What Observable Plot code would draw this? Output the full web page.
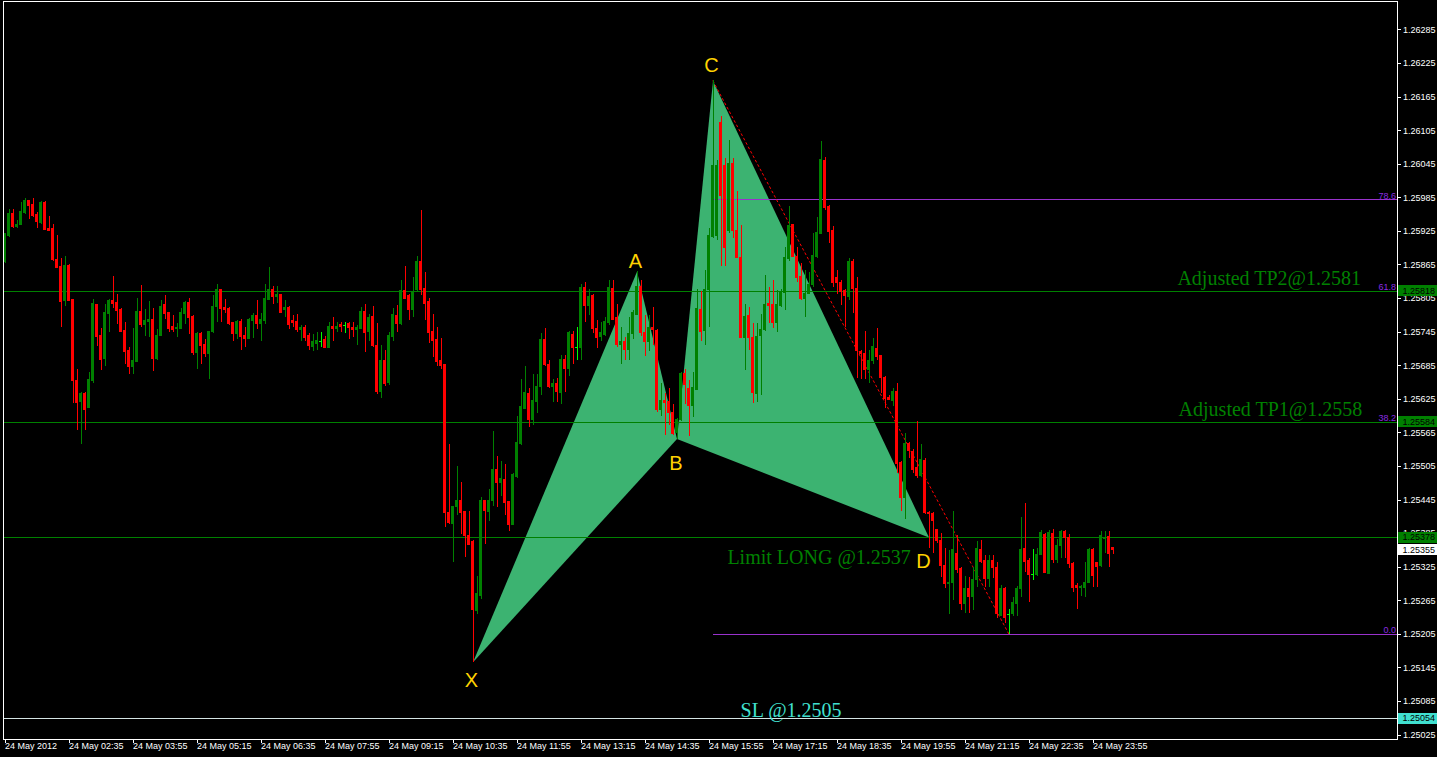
<!DOCTYPE html>
<html><head><meta charset="utf-8">
<script src="https://cdn.jsdelivr.net/npm/d3@7"></script>
<script src="https://cdn.jsdelivr.net/npm/@observablehq/plot@0.6"></script>
<style>
html,body{margin:0;padding:0;background:#000;overflow:hidden;}
#chart svg{display:block;}
</style></head><body><div id="chart"></div>
<script>
// EURUSD M5, 24 May 2012 — candle index 0 = first bar on screen
const open = [1.25871,1.25917,1.25956,1.25933,1.25937,1.25958,1.25980,1.25973,1.25955,1.25940,
1.25976,1.25930,1.25930,1.25874,1.25862,1.25801,1.25863,1.25803,1.25658,1.25620,
1.25635,1.25610,1.25658,1.25794,1.25738,1.25697,1.25778,1.25801,1.25797,1.25785,
1.25747,1.25712,1.25683,1.25692,1.25781,1.25758,1.25763,1.25767,1.25697,1.25738,
1.25794,1.25779,1.25754,1.25751,1.25751,1.25778,1.25797,1.25772,1.25708,1.25742,
1.25722,1.25706,1.25745,1.25790,1.25821,1.25789,1.25787,1.25762,1.25742,1.25763,
1.25738,1.25733,1.25765,1.25774,1.25760,1.25765,1.25803,1.25821,1.25808,1.25812,
1.25785,1.25789,1.25765,1.25763,1.25749,1.25753,1.25738,1.25719,1.25724,1.25729,
1.25731,1.25717,1.25754,1.25751,1.25758,1.25756,1.25760,1.25753,1.25749,1.25751,
1.25781,1.25745,1.25772,1.25721,1.25638,1.25694,1.25654,1.25737,1.25774,1.25760,
1.25819,1.25810,1.25785,1.25821,1.25871,1.25822,1.25799,1.25745,1.25731,1.25694,
1.25687,1.25422,1.25402,1.25433,1.25443,1.25424,1.25381,1.25370,1.25247,1.25274,
1.25443,1.25424,1.25443,1.25499,1.25476,1.25481,1.25442,1.25401,1.25486,1.25545,
1.25608,1.25635,1.25588,1.25620,1.25647,1.25731,1.25687,1.25647,1.25653,1.25636,
1.25695,1.25679,1.25740,1.25717,1.25717,1.25824,1.25792,1.25810,1.25751,1.25737,
1.25740,1.25762,1.25822,1.25771,1.25722,1.25728,1.25713,1.25742,1.25776,1.25826,
1.25744,1.25728,1.25753,1.25747,1.25606,1.25622,1.25620,1.25601,1.25565,1.25588,
1.25670,1.25644,1.25613,1.25642,1.25785,1.25747,1.25821,1.25915,1.25917,1.26119,
1.26042,1.25926,1.26046,1.25926,1.25878,1.25735,1.25774,1.25735,1.25635,1.25738,
1.25749,1.25795,1.25794,1.25762,1.25792,1.25815,1.25876,1.25937,1.25880,1.25844,
1.25804,1.25813,1.25829,1.25880,1.25921,1.26051,1.25969,1.25926,1.25842,1.25833,
1.25819,1.25808,1.25871,1.25822,1.25710,1.25706,1.25678,1.25694,1.25715,1.25703,
1.25663,1.25627,1.25622,1.25638,1.25511,1.25449,1.25545,1.25531,1.25502,1.25488,
1.25515,1.25422,1.25420,1.25392,1.25372,1.25327,1.25295,1.25297,1.25349,1.25322,
1.25259,1.25286,1.25272,1.25302,1.25356,1.25336,1.25304,1.25336,1.25324,1.25238,
1.25286,1.25241,1.25241,1.25259,1.25286,1.25358,1.25336,1.25311,1.25311,1.25347,
1.25383,1.25313,1.25384,1.25338,1.25363,1.25388,1.25377,1.25331,1.25291,1.25288,
1.25288,1.25297,1.25356,1.25333,1.25327,1.25376,1.25379,1.25359];
const high = [1.25922,1.25964,1.25965,1.25944,1.25976,1.25983,1.25981,1.25983,1.25958,1.25978,
1.25978,1.25951,1.25937,1.25917,1.25876,1.25881,1.25865,1.25804,1.25678,1.25638,
1.25638,1.25672,1.25804,1.25795,1.25751,1.25795,1.25803,1.25844,1.25812,1.25787,
1.25762,1.25717,1.25751,1.25806,1.25828,1.25785,1.25799,1.25787,1.25749,1.25801,
1.25810,1.25781,1.25774,1.25760,1.25787,1.25799,1.25806,1.25774,1.25744,1.25744,
1.25731,1.25747,1.25810,1.25831,1.25822,1.25804,1.25789,1.25763,1.25765,1.25767,
1.25753,1.25769,1.25778,1.25801,1.25778,1.25831,1.25860,1.25826,1.25826,1.25813,
1.25801,1.25790,1.25774,1.25776,1.25756,1.25756,1.25742,1.25740,1.25744,1.25744,
1.25737,1.25763,1.25772,1.25763,1.25762,1.25763,1.25763,1.25762,1.25756,1.25789,
1.25794,1.25776,1.25790,1.25760,1.25722,1.25712,1.25744,1.25787,1.25792,1.25837,
1.25863,1.25812,1.25842,1.25880,1.25962,1.25851,1.25806,1.25776,1.25754,1.25733,
1.25688,1.25545,1.25434,1.25504,1.25477,1.25425,1.25424,1.25372,1.25308,1.25449,
1.25445,1.25463,1.25567,1.25522,1.25513,1.25508,1.25443,1.25493,1.25595,1.25660,
1.25683,1.25644,1.25670,1.25670,1.25742,1.25751,1.25694,1.25661,1.25663,1.25703,
1.25703,1.25747,1.25747,1.25754,1.25831,1.25833,1.25822,1.25812,1.25765,1.25763,
1.25771,1.25837,1.25837,1.25794,1.25754,1.25735,1.25771,1.25783,1.25853,1.25837,
1.25774,1.25774,1.25789,1.25749,1.25654,1.25635,1.25644,1.25615,1.25590,1.25672,
1.25678,1.25658,1.25672,1.25822,1.25817,1.25856,1.25931,1.26194,1.26051,1.26130,
1.26055,1.26087,1.26055,1.25996,1.25935,1.25795,1.25789,1.25760,1.25760,1.25776,
1.25846,1.25824,1.25837,1.25819,1.25822,1.25896,1.25969,1.25938,1.25896,1.25867,
1.25855,1.25851,1.25921,1.25949,1.26085,1.26058,1.25971,1.25933,1.25855,1.25837,
1.25821,1.25876,1.25874,1.25842,1.25712,1.25747,1.25713,1.25733,1.25751,1.25704,
1.25665,1.25631,1.25644,1.25654,1.25513,1.25563,1.25547,1.25536,1.25586,1.25545,
1.25520,1.25425,1.25422,1.25393,1.25386,1.25359,1.25354,1.25425,1.25381,1.25324,
1.25309,1.25306,1.25325,1.25370,1.25372,1.25345,1.25345,1.25345,1.25333,1.25293,
1.25288,1.25250,1.25270,1.25290,1.25413,1.25438,1.25341,1.25356,1.25358,1.25390,
1.25386,1.25390,1.25393,1.25374,1.25390,1.25390,1.25384,1.25334,1.25295,1.25293,
1.25333,1.25359,1.25358,1.25334,1.25388,1.25388,1.25388,1.25361];
const low = [1.25867,1.25915,1.25931,1.25930,1.25935,1.25955,1.25947,1.25949,1.25930,1.25938,
1.25926,1.25924,1.25872,1.25858,1.25753,1.25790,1.25799,1.25617,1.25570,1.25545,
1.25569,1.25608,1.25654,1.25719,1.25676,1.25683,1.25745,1.25787,1.25758,1.25744,
1.25688,1.25670,1.25669,1.25690,1.25753,1.25737,1.25735,1.25674,1.25694,1.25737,
1.25767,1.25745,1.25745,1.25735,1.25749,1.25758,1.25740,1.25703,1.25679,1.25688,
1.25699,1.25660,1.25742,1.25762,1.25763,1.25779,1.25756,1.25729,1.25731,1.25712,
1.25717,1.25731,1.25733,1.25749,1.25729,1.25758,1.25801,1.25795,1.25797,1.25778,
1.25771,1.25749,1.25753,1.25745,1.25728,1.25729,1.25713,1.25710,1.25713,1.25717,
1.25715,1.25715,1.25728,1.25744,1.25745,1.25742,1.25731,1.25735,1.25721,1.25749,
1.25708,1.25728,1.25717,1.25633,1.25626,1.25647,1.25649,1.25729,1.25744,1.25756,
1.25803,1.25765,1.25771,1.25817,1.25810,1.25765,1.25724,1.25699,1.25683,1.25679,
1.25395,1.25402,1.25333,1.25418,1.25383,1.25343,1.25363,1.25155,1.25240,1.25268,
1.25365,1.25406,1.25434,1.25431,1.25452,1.25417,1.25388,1.25399,1.25484,1.25543,
1.25606,1.25574,1.25579,1.25599,1.25631,1.25683,1.25645,1.25620,1.25620,1.25615,
1.25638,1.25665,1.25688,1.25695,1.25695,1.25762,1.25774,1.25742,1.25715,1.25729,
1.25738,1.25756,1.25765,1.25717,1.25688,1.25695,1.25695,1.25731,1.25774,1.25737,
1.25701,1.25710,1.25722,1.25601,1.25595,1.25561,1.25579,1.25561,1.25554,1.25586,
1.25615,1.25558,1.25593,1.25640,1.25728,1.25722,1.25754,1.25912,1.25908,1.25863,
1.25863,1.25922,1.25912,1.25876,1.25733,1.25676,1.25713,1.25617,1.25619,1.25631,
1.25747,1.25760,1.25751,1.25744,1.25789,1.25783,1.25872,1.25878,1.25833,1.25801,
1.25771,1.25812,1.25824,1.25876,1.25919,1.25962,1.25903,1.25824,1.25813,1.25792,
1.25753,1.25801,1.25779,1.25663,1.25661,1.25661,1.25654,1.25688,1.25694,1.25635,
1.25608,1.25622,1.25613,1.25492,1.25425,1.25411,1.25520,1.25492,1.25484,1.25486,
1.25420,1.25358,1.25350,1.25368,1.25306,1.25286,1.25241,1.25265,1.25313,1.25247,
1.25243,1.25243,1.25247,1.25288,1.25331,1.25288,1.25288,1.25304,1.25234,1.25236,
1.25224,1.25205,1.25236,1.25236,1.25270,1.25315,1.25261,1.25302,1.25308,1.25345,
1.25313,1.25311,1.25331,1.25331,1.25340,1.25340,1.25322,1.25279,1.25250,1.25272,
1.25270,1.25295,1.25288,1.25288,1.25325,1.25349,1.25325,1.25347];
const close = [1.25921,1.25956,1.25933,1.25937,1.25960,1.25980,1.25971,1.25953,1.25942,1.25976,
1.25928,1.25926,1.25874,1.25860,1.25799,1.25863,1.25801,1.25658,1.25619,1.25635,
1.25606,1.25660,1.25795,1.25737,1.25695,1.25779,1.25801,1.25795,1.25783,1.25745,
1.25710,1.25683,1.25694,1.25781,1.25758,1.25765,1.25767,1.25697,1.25738,1.25790,
1.25778,1.25751,1.25749,1.25753,1.25779,1.25797,1.25771,1.25708,1.25742,1.25721,
1.25706,1.25745,1.25790,1.25821,1.25787,1.25785,1.25760,1.25742,1.25763,1.25737,
1.25733,1.25767,1.25774,1.25760,1.25767,1.25804,1.25821,1.25808,1.25812,1.25779,
1.25789,1.25758,1.25762,1.25749,1.25753,1.25735,1.25721,1.25728,1.25729,1.25729,
1.25717,1.25754,1.25751,1.25754,1.25754,1.25756,1.25753,1.25749,1.25753,1.25781,
1.25744,1.25771,1.25721,1.25638,1.25694,1.25653,1.25738,1.25776,1.25760,1.25819,
1.25804,1.25785,1.25815,1.25871,1.25821,1.25795,1.25744,1.25729,1.25692,1.25685,
1.25422,1.25404,1.25433,1.25443,1.25422,1.25381,1.25365,1.25249,1.25277,1.25443,
1.25425,1.25443,1.25499,1.25476,1.25483,1.25440,1.25401,1.25490,1.25547,1.25611,
1.25636,1.25588,1.25622,1.25647,1.25731,1.25687,1.25647,1.25653,1.25638,1.25695,
1.25679,1.25744,1.25717,1.25717,1.25824,1.25792,1.25808,1.25751,1.25735,1.25744,
1.25763,1.25824,1.25767,1.25722,1.25728,1.25713,1.25742,1.25779,1.25826,1.25744,
1.25728,1.25753,1.25749,1.25606,1.25622,1.25619,1.25601,1.25563,1.25588,1.25670,
1.25651,1.25613,1.25645,1.25787,1.25745,1.25821,1.25917,1.26042,1.26042,1.25989,
1.25896,1.26046,1.25926,1.25878,1.25735,1.25772,1.25735,1.25636,1.25737,1.25749,
1.25794,1.25792,1.25762,1.25794,1.25815,1.25878,1.25935,1.25880,1.25842,1.25804,
1.25813,1.25829,1.25881,1.25922,1.26053,1.25967,1.25924,1.25833,1.25833,1.25817,
1.25810,1.25871,1.25822,1.25712,1.25706,1.25678,1.25694,1.25719,1.25701,1.25663,
1.25626,1.25624,1.25638,1.25510,1.25449,1.25545,1.25533,1.25499,1.25488,1.25517,
1.25422,1.25420,1.25408,1.25372,1.25327,1.25295,1.25297,1.25356,1.25320,1.25259,
1.25286,1.25272,1.25302,1.25358,1.25334,1.25304,1.25336,1.25324,1.25241,1.25286,
1.25234,1.25241,1.25261,1.25286,1.25356,1.25334,1.25311,1.25311,1.25347,1.25386,
1.25315,1.25386,1.25338,1.25363,1.25388,1.25377,1.25331,1.25288,1.25288,1.25290,
1.25297,1.25356,1.25309,1.25325,1.25381,1.25377,1.25349,1.25355];

// time axis: bar index of each labelled tick and its text
const timeTickBars = [0,16,32,48,64,80,96,112,128,144,160,176,192,208,224,240,256,272];
const timeLabels = ["24 May 2012","24 May 02:35","24 May 03:55","24 May 05:15","24 May 06:35","24 May 07:55",
  "24 May 09:15","24 May 10:35","24 May 11:55","24 May 13:15","24 May 14:35","24 May 15:55",
  "24 May 17:15","24 May 18:35","24 May 19:55","24 May 21:15","24 May 22:35","24 May 23:55"];
// price axis ticks
const priceTicks = [1.26285,1.26225,1.26165,1.26105,1.26045,1.25985,1.25925,1.25865,1.25805,1.25745,1.25685,
  1.25625,1.25565,1.25505,1.25445,1.25385,1.25325,1.25265,1.25205,1.25145,1.25085,1.25025];

// harmonic pattern points (bar index, price)
const patternNames = ["X","A","B","C","D"];
const patternBars = [117,158,168,177,231];
const patternPrices = [1.25155,1.25853,1.25554,1.26194,1.25378];
// fibonacci retracement from C high to the day's low
const fibLabels = ["0.0","38.2","61.8","78.6"];
const fibPrices = [1.25205,1.25584,1.25818,1.25982];
const fibFromBar = 177, fibLowBar = 251;
// horizontal levels
const tpLevels = [1.25818,1.25584,1.25378];
const slLevel = 1.25054;
// text objects (anchor bar, anchor price = text baseline)
const noteTexts = ["Adjusted TP2@1.2581","Adjusted TP1@1.2558","Limit LONG @1.2537","SL @1.2505"];
const noteBars = [293.1,293.4,180.6,183.9];
const notePrices = [1.25830,1.25596,1.25331,1.25057];
// highlighted price labels on the axis
const boxPrices = [1.25818,1.25584,1.25378,1.25355,1.25054];
const boxColors = ["#008000","#008000","#008000","#ffffff","#40e0d0"];

const xDomain = [-0.5, 348];
const yDomain = [1.250179, 1.263368];

const candles = open.map((o, i) => ({i, o, h: high[i], l: low[i], c: close[i]}));
const col = d => d.c > d.o ? "#008000" : d.c < d.o ? "#ff0000" : "#00ff00";
const pts = patternNames.map((n, k) => ({n, i: patternBars[k], p: patternPrices[k]}));
const tri = [
  ...[pts[0], pts[1], pts[2]].map(d => ({...d, t: 1})),
  ...[pts[2], pts[3], pts[4]].map(d => ({...d, t: 2}))
];
const fib = fibLabels.map((l, k) => ({l, p: fibPrices[k]}));
const notes = noteTexts.map((t, k) => ({t, i: noteBars[k], p: notePrices[k]}));
const labelOffsets = {X:[-1.5,18.5], A:[-1.5,-10.5], B:[-1,25], C:[-1.5,-15], D:[-5.5,24]};
const tickMap = new Map(timeTickBars.map((b, k) => [b, timeLabels[k]]));
const FONT = "Liberation Sans, Arial, sans-serif";
const CRISP = "crispEdges";

const chart = Plot.plot({
  width: 1437, height: 757,
  marginLeft: 2.5, marginRight: 40.5, marginTop: 0.5, marginBottom: 18.5,
  style: {background: "#000", color: "#fff", fontFamily: FONT, fontSize: "9px"},
  x: {domain: xDomain, axis: null},
  y: {domain: yDomain, axis: null},
  marks: [
    Plot.line(tri, {x: "i", y: "p", z: "t", fill: "#3cb371", stroke: "none", curve: "linear-closed"}),
    Plot.ruleY(fib, {y: "p", x1: fibFromBar, x2: xDomain[1], stroke: "#9932cc", strokeWidth: 1, shapeRendering: CRISP}),
    Plot.ruleY(tpLevels, {stroke: "#008000", strokeWidth: 1, shapeRendering: CRISP}),
    Plot.ruleY([slLevel], {stroke: "#d4e4e4", strokeWidth: 1, shapeRendering: CRISP}),
    Plot.line([pts[3], {i: fibLowBar, p: fibPrices[0]}], {x: "i", y: "p", stroke: "#ff0000", strokeWidth: 1, strokeDasharray: "2,3"}),
    Plot.ruleX(candles, {x: "i", y1: "l", y2: "h", stroke: col, strokeWidth: 1, shapeRendering: CRISP}),
    Plot.rect(candles.filter(d => d.o !== d.c), {x1: d => d.i - 0.375, x2: d => d.i + 0.375, y1: "o", y2: "c",
      fill: col, stroke: col, strokeWidth: 1, insetLeft: 0.5, insetRight: 0.5, shapeRendering: CRISP}),
    Plot.ruleY(candles.filter(d => d.o === d.c), {y: "o", x1: d => d.i - 0.375, x2: d => d.i + 0.375, stroke: "#00ff00", shapeRendering: CRISP}),
    Plot.text(fib, {x: xDomain[1], y: "p", text: "l", textAnchor: "end", lineAnchor: "bottom", dx: -1, dy: -1,
      fill: "#8a2be2", fontSize: 9, fontFamily: FONT}),
    Plot.text(notes.slice(0, 3), {x: "i", y: "p", text: "t", textAnchor: "start", lineAnchor: "bottom",
      fill: "#008000", fontSize: 20, fontFamily: "Liberation Serif, Times New Roman, serif"}),
    Plot.text(notes.slice(3), {x: "i", y: "p", text: "t", textAnchor: "start", lineAnchor: "bottom",
      fill: "#40e0d0", fontSize: 20, fontFamily: "Liberation Serif, Times New Roman, serif"}),
    ...pts.map(d => Plot.text([d], {x: "i", y: "p", text: "n", dx: labelOffsets[d.n][0], dy: labelOffsets[d.n][1],
      lineAnchor: "middle", fill: "#ffd200", fontSize: 20, fontFamily: FONT})),
    Plot.axisY(priceTicks, {anchor: "right", tickSize: 3, tickPadding: 3, tickFormat: d => d.toFixed(5),
      label: null, fontSize: 9, fill: "#fff", stroke: "#fff", shapeRendering: CRISP}),
    Plot.axisX(timeTickBars, {anchor: "bottom", tickSize: 4, tickPadding: 0, tickFormat: d => tickMap.get(d),
      textAnchor: "start", dx: 0, label: null, fontSize: 9, fill: "#fff", stroke: "#fff", shapeRendering: CRISP}),
    Plot.frame({stroke: "#fff", strokeWidth: 1, shapeRendering: CRISP})
  ]
});
document.getElementById("chart").appendChild(chart);

// highlighted price boxes on the right axis
const ys = chart.scale("y");
const g = d3.select(chart).append("g").attr("font-family", FONT).attr("font-size", 9).attr("text-anchor", "start");
boxPrices.forEach((p, k) => {
  const yy = ys.apply(p);
  g.append("rect").attr("x", 1398).attr("y", yy - 5.5).attr("width", 39).attr("height", 11)
    .attr("fill", boxColors[k]).attr("shape-rendering", CRISP);
  g.append("text").attr("x", 1402.5).attr("y", yy).attr("dy", "0.32em").attr("text-anchor", "start")
    .attr("fill", "#000").text(p.toFixed(5));
});
</script>
</body></html>
